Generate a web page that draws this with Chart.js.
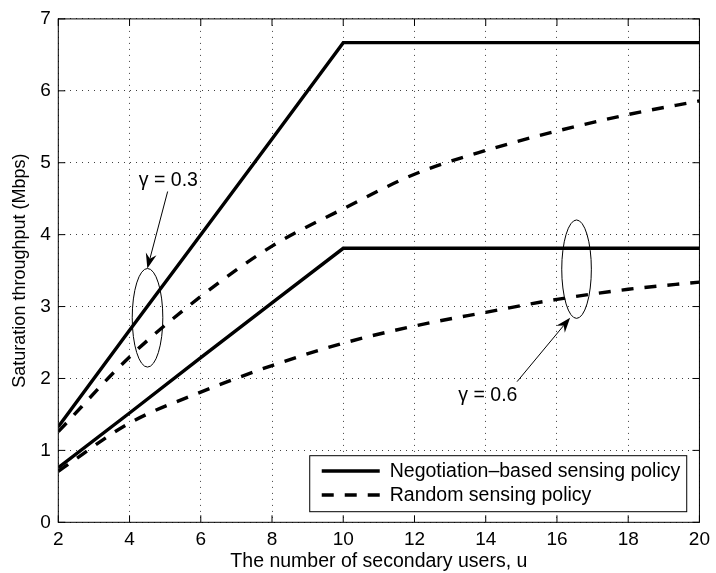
<!DOCTYPE html>
<html>
<head>
<meta charset="utf-8">
<script src="https://cdn.jsdelivr.net/npm/chart.js@4.4.1/dist/chart.umd.min.js"></script>
<style>
  html, body { margin: 0; padding: 0; background: #ffffff; }
  #wrap { width: 716px; height: 573px; position: relative; }
  canvas { display: block; }
</style>
</head>
<body>
<div id="wrap"><canvas id="chart" width="716" height="573"></canvas></div>
<script>
// ---------------- data ----------------
const users = [2, 4, 6, 8, 10, 12, 14, 16, 18, 20];
const negotiationGamma03 = [1.33, 2.67, 4.00, 5.33, 6.67, 6.67, 6.67, 6.67, 6.67, 6.67];
const randomGamma03      = [1.26, 2.30, 3.14, 3.84, 4.36, 4.84, 5.17, 5.44, 5.67, 5.86];
const negotiationGamma06 = [0.76, 1.52, 2.29, 3.05, 3.81, 3.81, 3.81, 3.81, 3.81, 3.81];
const randomGamma06      = [0.71, 1.38, 1.81, 2.18, 2.49, 2.73, 2.92, 3.10, 3.24, 3.34];

const xTickValues = [2, 4, 6, 8, 10, 12, 14, 16, 18, 20];
const yTickValues = [0, 1, 2, 3, 4, 5, 6, 7];

const seriesNames = ['Negotiation\u2013based sensing policy', 'Random sensing policy'];
const gammaLabels = ['\u03B3 = 0.3', '\u03B3 = 0.6'];
const xAxisTitle = 'The number of secondary users, u';
const yAxisTitle = 'Saturation throughput (Mbps)';

// ---------------- presentation ----------------
const FONT = "'Liberation Sans', Arial, Helvetica, sans-serif";
const DASH = [12, 11];
const LINE_W = 3.4;

const toPoints = (ys) => users.map((u, i) => ({ x: u, y: ys[i] }));

// annotation placement (data coordinates; sizes in px)
const annotationLayout = [
  { label: 0, text: { x: 5.09, y: 4.75 }, tail: { x: 5.07, y: 4.60 }, tip: { x: 4.50, y: 3.53 },
    ellipse: { x: 4.505, y: 2.844, rx: 15.3, ry: 49.3 } },
  { label: 1, text: { x: 14.06, y: 1.76 }, tail: { x: 14.88, y: 1.956 }, tip: { x: 16.37, y: 2.844 },
    ellipse: { x: 16.55, y: 3.52, rx: 14.8, ry: 49.2 } }
];

const framePlugin = {
  id: 'frameAndExtras',
  afterDatasetsDraw(chart) {
    const { ctx, chartArea: a, scales } = chart;
    const xs = scales.x, ys = scales.y;
    ctx.save();
    // frame
    ctx.strokeStyle = '#000';
    ctx.lineWidth = 1;
    ctx.setLineDash([]);
    ctx.strokeRect(a.left, a.top, a.right - a.left, a.bottom - a.top);
    // inward ticks on all four sides
    const tl = 7;
    ctx.beginPath();
    xTickValues.forEach(v => {
      const px = xs.getPixelForValue(v);
      ctx.moveTo(px, a.bottom); ctx.lineTo(px, a.bottom - tl);
      ctx.moveTo(px, a.top); ctx.lineTo(px, a.top + tl);
    });
    yTickValues.forEach(v => {
      const py = ys.getPixelForValue(v);
      ctx.moveTo(a.left, py); ctx.lineTo(a.left + tl, py);
      ctx.moveTo(a.right, py); ctx.lineTo(a.right - tl, py);
    });
    ctx.stroke();

    // annotations: ellipses, arrows, gamma labels
    annotationLayout.forEach(an => {
      const ex = xs.getPixelForValue(an.ellipse.x), ey = ys.getPixelForValue(an.ellipse.y);
      ctx.beginPath();
      ctx.lineWidth = 1;
      ctx.ellipse(ex, ey, an.ellipse.rx, an.ellipse.ry, 0, 0, Math.PI * 2);
      ctx.stroke();

      const tx = xs.getPixelForValue(an.tail.x), ty = ys.getPixelForValue(an.tail.y);
      const hx = xs.getPixelForValue(an.tip.x), hy = ys.getPixelForValue(an.tip.y);
      const ang = Math.atan2(hy - ty, hx - tx);
      const L = 15, W = 5.5, N = 10;
      const ux = Math.cos(ang), uy = Math.sin(ang);
      const bx = hx - ux * L, by = hy - uy * L;
      const nx = hx - ux * N, ny = hy - uy * N;
      ctx.beginPath();
      ctx.moveTo(tx, ty); ctx.lineTo(nx, ny);
      ctx.stroke();
      ctx.beginPath();
      ctx.moveTo(hx, hy);
      ctx.lineTo(bx - uy * W, by + ux * W);
      ctx.lineTo(nx, ny);
      ctx.lineTo(bx + uy * W, by - ux * W);
      ctx.closePath();
      ctx.fillStyle = '#000';
      ctx.fill();

      ctx.font = '19.5px ' + FONT;
      ctx.textAlign = 'center';
      ctx.textBaseline = 'middle';
      ctx.fillText(gammaLabels[an.label], xs.getPixelForValue(an.text.x), ys.getPixelForValue(an.text.y));
    });

    // legend box (inside plot, bottom-right)
    const bw = 377, bh = 56;
    const bRight = a.right - 12.7, bBottom = a.bottom - 10.6;
    const bLeft = bRight - bw, bTop = bBottom - bh;
    ctx.fillStyle = '#fff';
    ctx.fillRect(bLeft, bTop, bw, bh);
    ctx.lineWidth = 1;
    ctx.strokeStyle = '#000';
    ctx.strokeRect(bLeft, bTop, bw, bh);
    const entries = [chart.data.datasets[0], chart.data.datasets[1]];
    entries.forEach((ds, i) => {
      const rowY = bTop + 15.3 + i * 24;
      ctx.beginPath();
      ctx.lineWidth = ds.borderWidth;
      ctx.setLineDash(ds.borderDash || []);
      ctx.lineCap = 'butt';
      ctx.moveTo(bLeft + 12, rowY);
      ctx.lineTo(bLeft + 70, rowY);
      ctx.stroke();
      ctx.setLineDash([]);
      ctx.fillStyle = '#000';
      ctx.font = '19.5px ' + FONT;
      ctx.textAlign = 'left';
      ctx.textBaseline = 'middle';
      ctx.fillText(ds.label, bLeft + 80, rowY + 0.5);
    });
    ctx.restore();
  }
};

const solid = (label, ys) => ({
  label, data: toPoints(ys), borderColor: '#000', backgroundColor: '#000',
  borderWidth: LINE_W, pointRadius: 0, tension: 0, borderJoinStyle: 'miter', fill: false
});
const dashed = (label, ys) => ({
  label, data: toPoints(ys), borderColor: '#000', backgroundColor: '#000',
  borderWidth: LINE_W, borderDash: DASH, borderCapStyle: 'butt', pointRadius: 0,
  cubicInterpolationMode: 'monotone', fill: false
});

new Chart(document.getElementById('chart'), {
  type: 'line',
  data: {
    datasets: [
      solid(seriesNames[0], negotiationGamma03),
      dashed(seriesNames[1], randomGamma03),
      solid(seriesNames[0], negotiationGamma06),
      dashed(seriesNames[1], randomGamma06)
    ]
  },
  options: {
    responsive: false,
    animation: false,
    devicePixelRatio: 1,
    layout: { padding: { left: 0, right: 13.3, top: 12, bottom: 0 } },
    plugins: { legend: { display: false }, tooltip: { enabled: false } },
    scales: {
      x: {
        type: 'linear', min: 2, max: 20,
        afterBuildTicks: s => { s.ticks = xTickValues.map(v => ({ value: v })); },
        afterFit: s => { s.height = 50.7; },
        grid: { color: 'rgba(0,0,0,0.75)', lineWidth: 1, drawTicks: false },
        border: { display: false, dash: [1, 5] },
        ticks: { color: '#000', font: { family: FONT, size: 19 }, padding: 6, maxRotation: 0 },
        title: { display: true, text: xAxisTitle, color: '#000', font: { family: FONT, size: 19.5 }, padding: { top: 0, bottom: 0 } }
      },
      y: {
        type: 'linear', min: 0, max: 7,
        afterBuildTicks: s => { s.ticks = yTickValues.map(v => ({ value: v })); },
        afterFit: s => { s.width = 58.3; },
        grid: { color: 'rgba(0,0,0,0.75)', lineWidth: 1, drawTicks: false },
        border: { display: false, dash: [1, 5] },
        ticks: { color: '#000', font: { family: FONT, size: 19 }, padding: 7.5 },
        title: { display: true, text: yAxisTitle, color: '#000', font: { family: FONT, size: 18 }, padding: { top: 9.5, bottom: 0 } }
      }
    }
  },
  plugins: [framePlugin]
});
</script>
</body>
</html>
